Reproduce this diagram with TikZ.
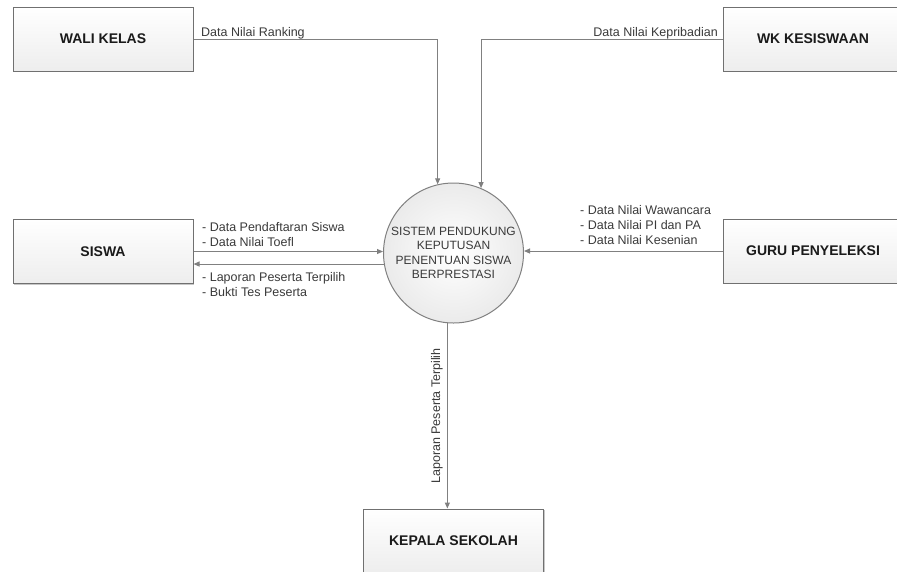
\documentclass[tikz,border=0pt]{standalone}
\usepackage{fontspec}
\setmainfont{Liberation Sans}
\usetikzlibrary{arrows.meta,shadows}
\definecolor{linegray}{HTML}{808080}
\definecolor{boxline}{HTML}{707070}
\definecolor{labeltext}{HTML}{3A3A3A}
\definecolor{boxtext}{HTML}{1A1A1A}
\tikzset{
  entity/.style={draw=boxline, line width=1pt, top color=white, bottom color=gray!14,
    minimum width=180pt, minimum height=64pt, inner sep=0pt,
    drop shadow={shadow xshift=1.2pt, shadow yshift=-1.2pt, fill=gray!55, opacity=0.8},
    font=\fontsize{14}{17}\selectfont\bfseries, text=boxtext},
  process/.style={circle, draw=linegray, line width=1pt, inner color=white, outer color=gray!16,
    minimum size=140pt, inner sep=0pt, align=center,
    font=\fontsize{12}{14.3}\selectfont, text=labeltext},
  flow/.style={draw=linegray, line width=1pt, -{Triangle[length=6pt,width=5pt]}},
  flowlabel/.style={inner sep=0pt, font=\fontsize{12.5}{15}\selectfont, text=labeltext, align=left}
}
\begin{document}
\begin{tikzpicture}[x=1pt,y=-1pt]
\useasboundingbox[fill=white] (0,0) rectangle (897,571);
\node[entity] (wali) at (103,39) {WALI KELAS};
\node[entity] (wk) at (813,39) {WK KESISWAAN};
\node[entity] (siswa) at (103,251.5) {SISWA};
\node[entity] (guru) at (813,251) {GURU PENYELEKSI};
\node[entity] (kepala) at (453.5,541) {KEPALA SEKOLAH};
\node[process] (sys) at (453.5,253) {SISTEM PENDUKUNG\\KEPUTUSAN\\PENENTUAN SISWA\\BERPRESTASI};

\draw[flow] (wali.east) -| (sys.103.6);
\draw[flow] (wk.west) -| (sys.67.7);
\draw[flow] (siswa.east) -- (siswa.east -| sys.west);
\draw[flow] (sys.189.9) -- (sys.189.9 -| siswa.east);
\draw[flow] (guru.west) -- (guru.west -| sys.east);
\draw[flow] (sys.265.5) -- (sys.265.5 |- kepala.north);

\node[flowlabel, anchor=base west] (l1) at (201,36) {Data Nilai Ranking};
\node[flowlabel, anchor=base east] (l2) at (718,36) {Data Nilai Kepribadian};
\node[flowlabel, anchor=north west] (l3) at (202,222) {- Data Pendaftaran Siswa\\- Data Nilai Toefl};
\node[flowlabel, anchor=north west] (l4) at (202,272) {- Laporan Peserta Terpilih\\- Bukti Tes Peserta};
\node[flowlabel, anchor=north west] (l5) at (580,205) {- Data Nilai Wawancara\\- Data Nilai PI dan PA\\- Data Nilai Kesenian};
\node[flowlabel, rotate=90] (l6) at (437,416) {Laporan Peserta Terpilih};
\end{tikzpicture}
\end{document}
